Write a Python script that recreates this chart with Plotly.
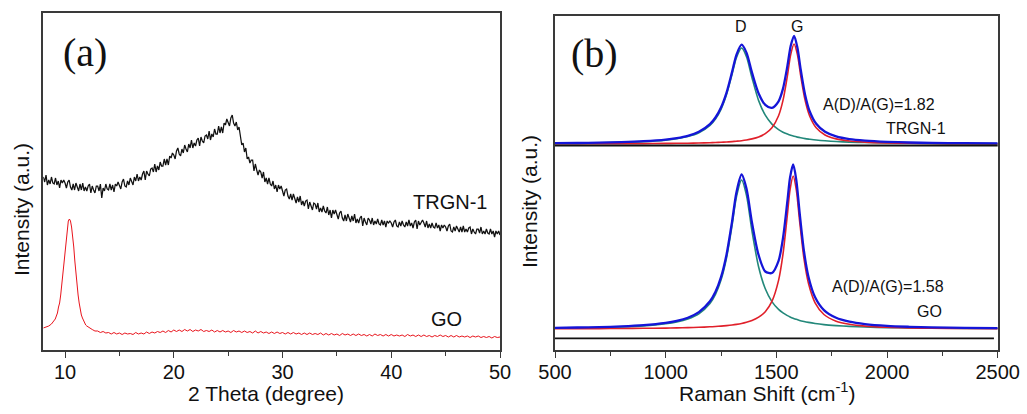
import numpy as np
import plotly.graph_objects as go

# ---------------- (a) XRD data ----------------
trgn_x = np.round(np.arange(8, 50.001, 0.125), 3)
trgn_y = [
    173, 168, 175, 165, 170, 166, 173, 167,   # 8
    166, 172, 165, 169, 162, 170, 167, 170,   # 9
    167, 162, 168, 170, 163, 160, 166, 160,   # 10
    167, 162, 159, 166, 160, 167, 159, 163,   # 11
    159, 164, 166, 157, 164, 160, 157, 164,   # 12
    164, 159, 166, 152, 162, 159, 166, 161,   # 13
    160, 166, 160, 165, 158, 166, 164, 168,   # 14
    165, 161, 168, 171, 164, 163, 169, 165,   # 15
    172, 168, 165, 173, 169, 176, 169, 173,   # 16
    170, 176, 179, 170, 179, 176, 174, 181,   # 17
    182, 178, 186, 178, 184, 180, 188, 184,   # 18
    184, 191, 185, 191, 185, 194, 192, 197,   # 19
    195, 191, 199, 202, 196, 194, 201, 197,   # 20
    205, 201, 198, 206, 202, 210, 202, 207,   # 21
    204, 210, 212, 204, 213, 209, 207, 214,   # 22
    215, 211, 219, 210, 216, 213, 221, 216,   # 23
    216, 224, 217, 223, 217, 227, 225, 231,   # 24
    228, 224, 232, 235, 227, 224, 228, 220,   # 25
    223, 213, 205, 207, 198, 202, 191, 193,   # 26
    187, 190, 190, 179, 186, 180, 175, 180,   # 27
    178, 172, 178, 168, 172, 166, 172, 166,   # 28
    164, 169, 161, 165, 158, 165, 161, 164,   # 29
    160, 154, 160, 161, 154, 151, 156, 150,   # 30
    156, 150, 147, 153, 148, 154, 145, 149,   # 31
    144, 149, 150, 141, 148, 144, 140, 147,   # 32
    146, 141, 147, 138, 142, 138, 144, 139,   # 33
    137, 143, 135, 140, 132, 140, 136, 140,   # 34
    136, 131, 137, 139, 132, 129, 135, 129,   # 35
    136, 131, 128, 134, 129, 136, 127, 131,   # 36
    127, 132, 134, 124, 132, 128, 125, 132,   # 37
    130, 126, 132, 125, 129, 126, 131, 126,   # 38
    125, 130, 125, 129, 123, 129, 127, 129,   # 39
    127, 123, 128, 130, 124, 123, 128, 124,   # 40
    129, 125, 123, 128, 124, 130, 124, 127,   # 41
    122, 128, 130, 121, 129, 125, 127, 130,   # 42
    127, 123, 129, 122, 126, 122, 127, 123,   # 43
    122, 127, 122, 125, 119, 125, 122, 125,   # 44
    123, 119, 124, 126, 119, 118, 123, 119,   # 45
    124, 120, 118, 123, 118, 124, 118, 121,   # 46
    118, 122, 123, 116, 121, 118, 116, 121,   # 47
    121, 117, 123, 116, 119, 116, 121, 117,   # 48
    116, 121, 116, 119, 113, 119, 116, 119,   # 49
    115,                                       # 50
]

go_x = np.concatenate([
    np.arange(8, 8.99, 0.25),
    np.round(np.arange(9, 11.95, 0.1), 1),
    np.round(np.arange(12, 50.001, 0.25), 2),
])
go_y = [
    22, 23, 24, 26,
    29, 31, 34, 37, 43, 47, 55, 66, 77, 89, 100, 111, 120, 129, 131, 129,
    123, 114, 103, 89, 75, 64, 55, 47, 40, 35, 32, 29, 27, 25,
    24, 22, 20.5, 19,  19, 17.5, 18.5, 17,  17.5, 16, 17.5, 16,  17, 15.5, 17, 16,
    16.5, 15.5, 17.5, 16,  17, 16, 18, 16.5,  18, 17, 18.5, 17.5,  19, 17.5, 19.5, 18,
    20, 18.5, 20, 18.5,  20.5, 19, 20.5, 18.5,  20, 19, 20.5, 18.5,  19.5, 18.5, 20, 18,
    19.5, 18, 19.5, 18,  19, 17.5, 19.5, 18,  19, 17.5, 19, 17.5,  18.5, 17, 19, 17,
    18.5, 17, 18, 16.5,  18, 16.5, 18, 16.5,  17.5, 16, 17.5, 16,  17.5, 16, 17, 15.5,
    17, 15.5, 17, 15.5,  16.5, 15.5, 17, 15,  16.5, 15, 16.5, 15,  16, 14.5, 16.5, 15,
    16, 14.5, 16, 14.5,  16, 14.5, 15.5, 14,  15.5, 14, 16, 14.5,  15.5, 14, 15.5, 14,
    15.5, 14, 15, 14,  15, 13.5, 15.5, 14,  15, 13.5, 15, 13.5,  15, 13.5, 14.5, 13,
    14.5, 13.5, 15, 13.5,  14.5, 13, 14.5, 13,  14.5, 13, 14, 13,  14, 12.5, 14, 13,
    14, 12.5, 13.5, 12.5,  13.5, 12, 13.5, 12.5,  13,
]

# ---------------- (b) Raman data ----------------
top_x = [500, 600, 700, 800, 900, 1000, 1050, 1100, 1150, 1200, 1225, 1250, 1275,
         1300, 1320, 1343, 1365, 1390, 1420, 1450, 1480, 1510, 1530, 1550, 1565,
         1580, 1595, 1610, 1630, 1650, 1680, 1720, 1770, 1830, 1900, 2000, 2100,
         2200, 2350, 2500]
top_D = [206.7, 206.8, 207.1, 207.6, 208.3, 209.8, 211.2, 213.4, 217.2, 224.6, 231.0,
         240.7, 255.4, 275.7, 292.6, 302.0, 293.4, 272.2, 249.4, 234.8, 225.9, 220.4,
         217.8, 215.9, 214.7, 213.7, 212.9, 212.2, 211.4, 210.8, 210.0, 209.2, 208.5,
         207.9, 207.5, 207.1, 206.8, 206.6, 206.5, 206.4]
top_G = [206.2, 206.2, 206.3, 206.3, 206.4, 206.6, 206.7, 206.8, 207.0, 207.3, 207.5,
         207.8, 208.0, 208.4, 208.8, 209.3, 210.0, 211.1, 213.0, 216.3, 222.2, 234.3,
         249.6, 274.3, 295.6, 306.0, 295.6, 274.3, 249.6, 234.3, 222.2, 215.0, 211.1,
         209.0, 207.9, 207.1, 206.7, 206.5, 206.3, 206.2]
top_fit = [206.8, 207.0, 207.4, 207.9, 208.8, 210.4, 211.9, 214.2, 218.2, 225.9, 232.5,
           242.5, 257.4, 278.1, 295.4, 305.3, 297.4, 277.3, 256.5, 245.1, 242.1, 248.7,
           261.4, 284.1, 304.3, 314.2, 302.5, 280.5, 255.0, 239.0, 226.2, 218.2, 213.6,
           210.9, 209.4, 208.2, 207.5, 207.1, 206.8, 206.6]

bot_x = [500, 600, 700, 800, 900, 1000, 1050, 1100, 1150, 1200, 1225, 1250, 1275,
         1300, 1320, 1343, 1365, 1390, 1420, 1450, 1480, 1510, 1530, 1550, 1562,
         1576, 1590, 1605, 1625, 1645, 1675, 1715, 1770, 1830, 1900, 2000, 2100,
         2200, 2350, 2500]
bot_D = [21.9, 22.1, 22.5, 23.1, 24.1, 26.2, 28.0, 31.0, 36.2, 46.5, 55.7, 69.9, 92.2,
         124.6, 153.4, 170.0, 154.7, 118.8, 83.0, 61.2, 48.4, 40.6, 37.1, 34.4, 33.1,
         31.8, 30.7, 29.6, 28.5, 27.6, 26.5, 25.4, 24.4, 23.6, 23.0, 22.4, 22.1, 21.9,
         21.6, 21.5]
bot_G = [21.3, 21.3, 21.4, 21.5, 21.7, 21.9, 22.1, 22.4, 22.7, 23.2, 23.5, 23.9, 24.4,
         25.0, 25.6, 26.5, 27.7, 29.5, 32.8, 38.3, 48.6, 69.6, 95.8, 135.7, 160.5,
         174.0, 160.5, 129.1, 91.0, 66.7, 47.2, 35.5, 28.8, 25.7, 23.9, 22.7, 22.1,
         21.8, 21.5, 21.4]
bot_fit = [22.2, 22.5, 22.9, 23.6, 24.8, 27.1, 29.1, 32.3, 37.9, 48.7, 58.2, 72.8, 95.6,
           128.6, 158.0, 175.5, 161.4, 127.3, 94.8, 78.5, 77.0, 89.2, 111.9, 149.1,
           172.6, 185.5, 170.2, 137.7, 98.5, 73.3, 52.7, 39.9, 32.2, 28.3, 25.9, 24.1,
           23.2, 22.6, 22.1, 21.8]

raman_divider_level = 204.5
raman_zero_level = 11.7
raman_zero_end = 2483

xrd_ticks = [10, 20, 30, 40, 50]
raman_ticks = [500, 1000, 1500, 2000, 2500]

# ---------------- figure ----------------
W, H = 1027, 414
SANS = "Liberation Sans, Arial, sans-serif"
SERIF = "Liberation Serif, Times New Roman, serif"
BLUE = "#1515d8"
GREEN = "#23887a"
RED = "#e0202a"

fig = go.Figure()
fig.add_trace(go.Scatter(x=trgn_x, y=trgn_y, mode="lines",
                         line=dict(color="#111111", width=1.25), xaxis="x", yaxis="y"))
fig.add_trace(go.Scatter(x=go_x, y=go_y, mode="lines",
                         line=dict(color="#e8141c", width=1), xaxis="x", yaxis="y"))

for xs, ys, col, w in [
    (top_x, top_D, GREEN, 1.6), (top_x, top_G, RED, 1.6), (top_x, top_fit, BLUE, 2.3),
    (bot_x, bot_D, GREEN, 1.6), (bot_x, bot_G, RED, 1.6), (bot_x, bot_fit, BLUE, 2.3),
]:
    fig.add_trace(go.Scatter(x=xs, y=ys, mode="lines",
                             line=dict(color=col, width=w, shape="spline", smoothing=0.8),
                             xaxis="x2", yaxis="y2"))

def px(x):
    return x / W

def py(y):
    return 1 - y / H

axis_common = dict(showline=True, mirror=True, linecolor="#3a3a3a", linewidth=1.5,
                   showgrid=False, zeroline=False, automargin=False)

fig.update_layout(
    template="none",
    width=W, height=H,
    margin=dict(l=0, r=0, t=0, b=0, autoexpand=False),
    paper_bgcolor="white", plot_bgcolor="white",
    showlegend=False,
    font=dict(family=SANS, color="#111111"),
    xaxis=dict(domain=[px(43.3), px(500)], range=[8, 50], tickvals=xrd_ticks,
               ticks="outside", ticklen=6, tickwidth=1.3, tickcolor="#3a3a3a",
               ticklabelstandoff=-3,
               tickfont=dict(size=20, family=SANS, color="#111111"),
               minor=dict(dtick=5, tick0=5, ticks="outside", ticklen=4,
                          tickwidth=1.2, tickcolor="#3a3a3a"),
               anchor="y", **axis_common),
    yaxis=dict(domain=[py(350), py(13)], range=[0, 337], showticklabels=False,
               ticks="", anchor="x", **axis_common),
    xaxis2=dict(domain=[px(555), px(997.7)], range=[500, 2500], tickvals=raman_ticks,
                ticks="outside", ticklen=6, tickwidth=1.3, tickcolor="#3a3a3a",
                ticklabelstandoff=-3,
                tickfont=dict(size=20, family=SANS, color="#111111"),
                minor=dict(dtick=250, tick0=250, ticks="outside", ticklen=4,
                           tickwidth=1.2, tickcolor="#3a3a3a"),
                anchor="y2", **axis_common),
    yaxis2=dict(domain=[py(350), py(15.7)], range=[0, 334.3], showticklabels=False,
                ticks="", anchor="x2", **axis_common),
)

fig.add_shape(type="line", xref="x2 domain", yref="y2", x0=0, x1=1,
              y0=raman_divider_level, y1=raman_divider_level,
              line=dict(color="#111111", width=2))
fig.add_shape(type="line", xref="x2", yref="y2", x0=500, x1=raman_zero_end,
              y0=raman_zero_level, y1=raman_zero_level,
              line=dict(color="#111111", width=1.8))

def ann(text, x, y, size, family=SANS, angle=0):
    fig.add_annotation(text=text, x=px(x), y=py(y), xref="paper", yref="paper",
                       showarrow=False, xanchor="center", yanchor="middle",
                       textangle=angle, font=dict(size=size, family=family, color="#111111"))

ann("(a)", 85, 52, 40, SERIF)
ann("(b)", 594, 53, 40, SERIF)
ann("TRGN-1", 450, 202, 20)
ann("GO", 446, 319, 20)
ann("2 Theta (degree)", 266, 393, 21)
ann("Intensity (a.u.)", 21, 210, 21, angle=-90)
ann("Intensity (a.u.)", 530, 202, 21, angle=-90)
ann("Raman Shift (cm<sup>-1</sup>)", 767, 392, 21)
ann("D", 741, 27, 16)
ann("G", 797, 27, 16)
ann("A(D)/A(G)=1.82", 879, 104, 16)
ann("TRGN-1", 916, 128, 16)
ann("A(D)/A(G)=1.58", 888, 286, 16)
ann("GO", 929, 311, 16)

fig.write_html(
    "out.html",
    config={"displayModeBar": False},
    post_script="document.body.style.margin='0';document.body.style.padding='0';"
                "document.body.style.overflow='hidden';",
)
